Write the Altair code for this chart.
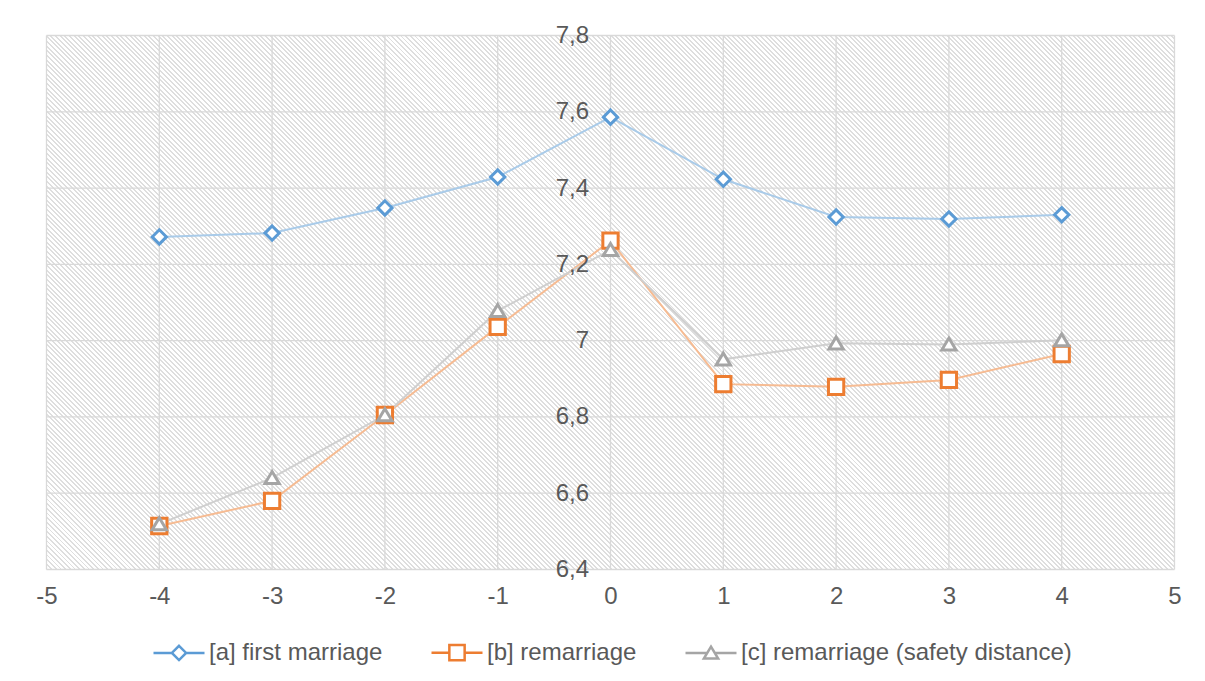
import math
import altair as alt
import pandas as pd

# ---------------- data ----------------
x_vals = [-4, -3, -2, -1, 0, 1, 2, 3, 4]
first_marriage = [7.272, 7.282, 7.348, 7.429, 7.586, 7.423, 7.324, 7.319, 7.330]
remarriage = [6.514, 6.580, 6.805, 7.036, 7.262, 6.886, 6.879, 6.897, 6.965]
remarriage_safety = [6.519, 6.640, 6.805, 7.078, 7.238, 6.951, 6.993, 6.990, 7.001]
series_names = ["[a] first marriage", "[b] remarriage", "[c] remarriage (safety distance)"]
x_ticks = [-5, -4, -3, -2, -1, 0, 1, 2, 3, 4, 5]
y_ticks = [6.4, 6.6, 6.8, 7.0, 7.2, 7.4, 7.6, 7.8]

# ---------------- styles ----------------
W, H = 1128, 534
TEXT = "#595959"
GRID = "#d9d9d9"
FONT = "Liberation Sans"
FS = 24
line_colors = ["#a9cbe9", "#f6bb92", "#cfcfcf"]
marker_colors = ["#5b9bd5", "#ed7d31", "#a5a5a5"]
# marker outlines (unit coordinates, scaled by sqrt(size)/2)
diamond = "M0,-0.28L0.28,0L0,0.28L-0.28,0Z"
square = "M-0.3,-0.3L0.3,-0.3L0.3,0.3L-0.3,0.3Z"
triangle = "M0,-0.25L0.28,0.22L-0.28,0.22Z"
marker_paths = [diamond, square, triangle]
# legend symbols: short line stubs on both sides of the marker
legend_paths = [
    "M-1,0L-0.28,0M0.28,0L1,0" + diamond,
    "M-1,0L-0.3,0M0.3,0L1,0" + square,
    "M-1,0L-0.15,0M0.15,0L1,0" + triangle,
]
SYM = 2601
LEG_X, LEG_Y = 105.5, 590

rows = []
for name, vals in zip(series_names, [first_marriage, remarriage, remarriage_safety]):
    for xv, yv in zip(x_vals, vals):
        rows.append({"x": xv, "y": yv, "series": name, "key": name, "lkey": name})
df = pd.DataFrame(rows)

xscale = alt.Scale(domain=[x_ticks[0], x_ticks[-1]], nice=False, zero=False)
yscale = alt.Scale(domain=[y_ticks[0], y_ticks[-1]], nice=False, zero=False)

# hatched background via a striped linear gradient (45 degree "\" stripes)
ratio = H / W
s = (1 + ratio) / (1 + ratio * ratio)
x2g, y2g = s, 1 - s * ratio
perp = (W + H) / math.sqrt(2)
n = int(perp / 3.3)
stops = []
for i in range(n):
    a0 = round(i / n, 6)
    a1 = round((i + 0.42) / n, 6)
    a2 = round((i + 1) / n, 6)
    stops += [
        alt.GradientStop(offset=a0, color="#dedede"),
        alt.GradientStop(offset=a1, color="#dedede"),
        alt.GradientStop(offset=a1, color="#ffffff"),
        alt.GradientStop(offset=a2, color="#ffffff"),
    ]
hatch = alt.LinearGradient(gradient="linear", stops=stops, x1=0, y1=1, x2=x2g, y2=y2g)

bg = alt.Chart(pd.DataFrame({"a": [0]})).mark_rect(fill=hatch).encode(
    x=alt.datum(x_ticks[0], scale=xscale),
    x2=alt.datum(x_ticks[-1]),
    y=alt.datum(y_ticks[0], scale=yscale),
    y2=alt.datum(y_ticks[-1]),
)

vgrid = alt.Chart(pd.DataFrame({"xt": x_ticks})).mark_rule(color=GRID, strokeWidth=1.3).encode(
    x=alt.X("xt:Q", scale=xscale)
)
hgrid = alt.Chart(pd.DataFrame({"yt": y_ticks})).mark_rule(color=GRID, strokeWidth=1.3).encode(
    y=alt.Y("yt:Q", scale=yscale)
)

lines = alt.Chart(df).mark_line(strokeWidth=2).encode(
    x=alt.X("x:Q", scale=xscale,
            axis=alt.Axis(values=x_ticks, title=None, grid=False, domain=False, ticks=False,
                          labelFlush=False, labelOverlap=False,
                          labelExpr="'' + datum.value", labelFont=FONT, labelFontSize=FS,
                          labelColor=TEXT, labelPadding=15, zindex=1)),
    y=alt.Y("y:Q", scale=yscale,
            axis=alt.Axis(values=y_ticks, title=None, grid=False, domain=False, ticks=False,
                          labelFlush=False, labelOverlap=False,
                          offset=-W / 2, labelPadding=22,
                          labelExpr="replace(format(datum.value, '~g'), '.', ',')",
                          labelFont=FONT, labelFontSize=FS, labelColor=TEXT, zindex=1)),
    color=alt.Color("series:N", scale=alt.Scale(range=line_colors), legend=None),
    detail="series:N",
)

points = alt.Chart(df).mark_point(filled=True, fill="white", strokeWidth=3, size=SYM, opacity=1).encode(
    x=alt.X("x:Q", scale=xscale),
    y=alt.Y("y:Q", scale=yscale),
    stroke=alt.Stroke("key:N", scale=alt.Scale(range=marker_colors), legend=None),
    shape=alt.Shape("key:N", scale=alt.Scale(range=marker_paths), legend=None),
)

legend_common = dict(title=None, orient="none", direction="horizontal",
                     legendX=LEG_X, legendY=LEG_Y, symbolSize=SYM,
                     symbolStrokeWidth=2.5, symbolFillColor="white", symbolOpacity=1,
                     labelFont=FONT, labelFontSize=FS, labelColor=TEXT, labelLimit=1000,
                     labelOffset=3, columnPadding=43, padding=0)

# invisible layer that only carries the legend (line + marker symbols)
legend_layer = alt.Chart(df).mark_point(filled=True, fill="white", strokeWidth=2.5,
                                        size=SYM, opacity=0).encode(
    x=alt.X("x:Q", scale=xscale),
    y=alt.Y("y:Q", scale=yscale),
    stroke=alt.Stroke("lkey:N", scale=alt.Scale(range=marker_colors),
                      legend=alt.Legend(**legend_common)),
    shape=alt.Shape("lkey:N", scale=alt.Scale(range=legend_paths),
                    legend=alt.Legend(**legend_common)),
)

chart = alt.layer(bg, vgrid, hgrid, lines, points, legend_layer).resolve_scale(
    shape="independent", stroke="independent"
).properties(
    width=W, height=H,
    autosize=alt.AutoSizeParams(type="none"),
    padding={"left": 38.5, "top": 27.5, "right": 22.5, "bottom": 103.5},
    background="white",
).configure_view(stroke=None).configure_legend(
    labelFont=FONT, labelColor=TEXT
).configure_axis(labelFont=FONT)

chart.save("out.html", embed_options={"renderer": "svg", "actions": False})
